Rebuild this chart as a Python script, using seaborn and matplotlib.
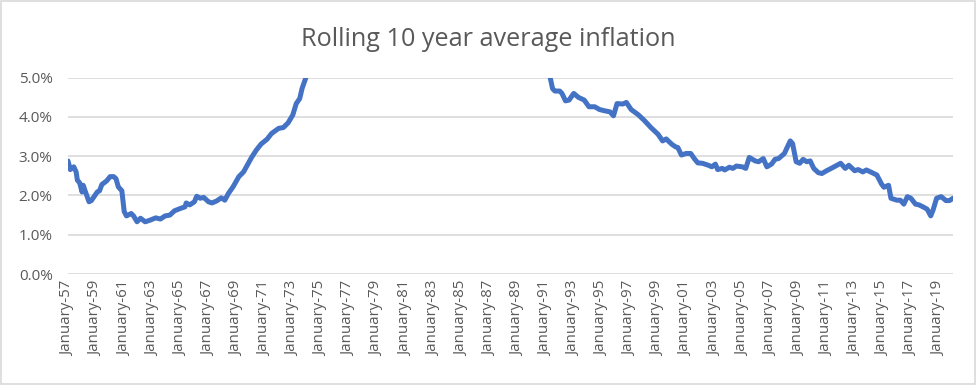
import pandas as pd
import matplotlib
matplotlib.use("Agg")
import matplotlib.pyplot as plt
import matplotlib.dates as mdates
from matplotlib.patches import Rectangle
from matplotlib.ticker import PercentFormatter
import seaborn as sns

# Month of reading and rolling 10-year average inflation (%).
# Values between 1974 and 1991 sit above the 5% axis limit and are clipped.
months = [
    "1957-01", "1957-03", "1957-06", "1957-08", "1957-09", "1957-11",
    "1958-01", "1958-02", "1958-04", "1958-07", "1958-09",
    "1959-02", "1959-04", "1959-06", "1959-10",
    "1960-01", "1960-04", "1960-06", "1960-08", "1960-11",
    "1961-01", "1961-03", "1961-07", "1961-09", "1961-12",
    "1962-03", "1962-07", "1962-11",
    "1963-04", "1963-08", "1963-12",
    "1964-04", "1964-08",
    "1965-01", "1965-05", "1965-06", "1965-09",
    "1966-01", "1966-03", "1966-06", "1966-09",
    "1967-01", "1967-04", "1967-08", "1967-12",
    "1968-03", "1968-06", "1968-10",
    "1969-03", "1969-07", "1969-11",
    "1970-02", "1970-06", "1970-10",
    "1971-03", "1971-07",
    "1972-01", "1972-05", "1972-09",
    "1973-01", "1973-04", "1973-07", "1973-09", "1973-12",
    "1974-03", "1975-01", "1976-06", "1978-01", "1980-01", "1982-01",
    "1984-01", "1986-01", "1988-01", "1990-01", "1991-01",
    "1991-05", "1991-07", "1991-09",
    "1992-01", "1992-03", "1992-06", "1992-09",
    "1993-01", "1993-05", "1993-10",
    "1994-02", "1994-07", "1994-11",
    "1995-03", "1995-08", "1995-11",
    "1996-02", "1996-07", "1996-10",
    "1997-02", "1997-08",
    "1998-01", "1998-07",
    "1999-01", "1999-05", "1999-08",
    "2000-01", "2000-04", "2000-06", "2000-09",
    "2001-01", "2001-05", "2001-08", "2001-11",
    "2002-03", "2002-08", "2002-11",
    "2003-02", "2003-04", "2003-08", "2003-10",
    "2004-02", "2004-05", "2004-08",
    "2005-01", "2005-04", "2005-07", "2005-12",
    "2006-03", "2006-07", "2006-10",
    "2007-02", "2007-05", "2007-08",
    "2008-01", "2008-03", "2008-06", "2008-08", "2008-11",
    "2009-02", "2009-05", "2009-08", "2009-11",
    "2010-02", "2010-06", "2010-09",
    "2011-01", "2011-05", "2011-10",
    "2012-01", "2012-05", "2012-08",
    "2013-01", "2013-04", "2013-08", "2013-11",
    "2014-04", "2014-08", "2014-12",
    "2015-02", "2015-06", "2015-08",
    "2016-01", "2016-04", "2016-07", "2016-10",
    "2017-01", "2017-05", "2017-08", "2017-12",
    "2018-03", "2018-06", "2018-08", "2018-11",
    "2019-03", "2019-07", "2019-10",
    "2020-01",
]
inflation = [
    2.88, 2.66, 2.73, 2.60, 2.39, 2.32,
    2.09, 2.26, 2.09, 1.84, 1.87,
    2.09, 2.12, 2.28, 2.37,
    2.48, 2.48, 2.43, 2.22, 2.12,
    1.59, 1.48, 1.54, 1.48, 1.33,
    1.42, 1.33, 1.37,
    1.43, 1.40, 1.48,
    1.50, 1.61,
    1.67, 1.71, 1.81, 1.76,
    1.84, 1.98, 1.93, 1.95,
    1.84, 1.81, 1.86, 1.94,
    1.88, 2.05, 2.22,
    2.48, 2.60, 2.82,
    2.98, 3.16, 3.31,
    3.43, 3.58,
    3.71, 3.73, 3.85,
    4.05, 4.34, 4.47, 4.73, 4.98,
    5.25, 5.60, 6.00, 6.50, 7.20, 8.00,
    8.20, 7.70, 6.80, 5.90, 5.30,
    5.00, 4.72, 4.66,
    4.66, 4.60, 4.41, 4.43,
    4.60, 4.50, 4.43,
    4.26, 4.26, 4.19,
    4.16, 4.13, 4.03,
    4.34, 4.33, 4.37,
    4.19, 4.06,
    3.92, 3.73,
    3.56, 3.39, 3.44,
    3.30, 3.24, 3.22, 3.03,
    3.07, 3.07, 2.94, 2.83,
    2.82, 2.77, 2.73,
    2.80, 2.66, 2.69, 2.65,
    2.72, 2.69, 2.75,
    2.73, 2.69, 2.97, 2.88,
    2.86, 2.94, 2.73,
    2.80, 2.92, 2.94,
    3.07, 3.20, 3.39, 3.32, 2.86,
    2.82, 2.92, 2.86, 2.88,
    2.69, 2.58, 2.56,
    2.63, 2.69, 2.77,
    2.82, 2.69, 2.77,
    2.63, 2.66, 2.60, 2.65,
    2.58, 2.52, 2.29,
    2.21, 2.26, 1.93,
    1.88, 1.88, 1.78, 1.97,
    1.93, 1.78, 1.76, 1.70,
    1.65, 1.48, 1.63, 1.93,
    1.97, 1.87, 1.87,
    1.93,
]
tick_years = list(range(1957, 2020, 2))

df = pd.DataFrame({"date": pd.to_datetime(months), "inflation": inflation})

sns.set_theme(style="white")
plt.rcParams["font.family"] = ["Open Sans", "DejaVu Sans"]

text_color = "#595959"
grid_color = "#d9d9d9"

fig = plt.figure(figsize=(9.77, 3.85), dpi=100)
ax = fig.add_axes([68 / 977, 1 - 274 / 385, (953 - 68) / 977, (274 - 77.7) / 385])

sns.lineplot(data=df, x="date", y="inflation", ax=ax, color="#4472C4",
             linewidth=3.6, solid_joinstyle="round", solid_capstyle="round")

ax.set_ylim(0, 5)
ax.set_xlim(df["date"].iloc[0], df["date"].iloc[-1])
ax.set_yticks([0, 1, 2, 3, 4, 5])
ax.yaxis.set_major_formatter(PercentFormatter(xmax=100, decimals=1))
ax.yaxis.grid(True, color=grid_color, linewidth=1.2)
ax.set_axisbelow(True)

ticks = pd.to_datetime([f"{y}-01-01" for y in tick_years])
ax.set_xticks(ticks)
ax.set_xticklabels([f"January-{y % 100:02d}" for y in tick_years], rotation=90)
ax.xaxis.set_minor_locator(mdates.MonthLocator(bymonth=[1]))

ax.tick_params(axis="x", labelsize=10.8, colors=text_color, length=0, pad=5)
ax.tick_params(axis="y", labelsize=11, colors=text_color, length=0, pad=11)
ax.set_xlabel("")
ax.set_ylabel("")
for side in ["top", "right", "left", "bottom"]:
    ax.spines[side].set_visible(False)

fig.text(0.5, 1 - 39 / 385, "Rolling 10 year average inflation", ha="center",
         va="center", fontsize=18.2, color=text_color)

# thin chart-area border like the spreadsheet export
fig.patches.append(Rectangle((0.001, 0.003), 0.997, 0.994, transform=fig.transFigure,
                             fill=False, edgecolor=grid_color, linewidth=1.2))

fig.savefig("out.png", dpi=100)
